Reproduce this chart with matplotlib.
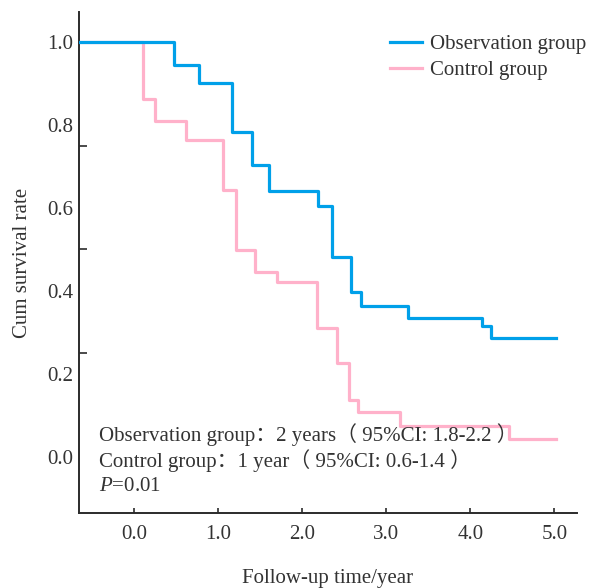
import matplotlib
matplotlib.use("Agg")
import matplotlib.pyplot as plt
import numpy as np

plt.rcParams['font.family'] = ['Liberation Serif', 'Noto Sans CJK SC']
plt.rcParams['mathtext.fontset'] = 'custom'
plt.rcParams['mathtext.rm'] = 'Liberation Serif'
plt.rcParams['mathtext.it'] = 'Liberation Serif:italic'

# Kaplan-Meier step data (time in years, cum survival)
obs_times = [-0.65, 0.48, 0.77, 1.17, 1.40, 1.60, 2.19, 2.35, 2.58, 2.70, 3.26, 4.14, 4.25, 5.02]
obs_surv = [1.0, 0.943, 0.900, 0.783, 0.702, 0.641, 0.605, 0.482, 0.396, 0.363, 0.335, 0.315, 0.287, 0.287]

ctrl_times = [-0.65, 0.11, 0.25, 0.62, 1.06, 1.21, 1.44, 1.70, 2.18, 2.41, 2.56, 2.66, 3.16, 4.46, 5.02]
ctrl_surv = [1.0, 0.863, 0.810, 0.764, 0.643, 0.498, 0.444, 0.421, 0.310, 0.225, 0.137, 0.107, 0.074, 0.042, 0.042]

x_ticks = [0, 1, 2, 3, 4, 5]
y_labels = [0.0, 0.2, 0.4, 0.6, 0.8, 1.0]
y_marks = [0.0, 0.25, 0.5, 0.75, 1.0]

notes = ["Observation group：2 years（ 95%CI: 1.8-2.2 ）",
         "Control group：1 year（ 95%CI: 0.6-1.4 ）",
         "$P$=0.01"]

blue = '#00a0e9'
pink = '#ffb1ca'
axis_col = '#2b2b2b'
fs = 15

fig = plt.figure(figsize=(5.92, 5.88), dpi=100)
ax = fig.add_axes([0.1334, 0.1276, 0.8413, 0.852])

ax.step(obs_times, obs_surv, where='post', color=blue, lw=2.3, label='Observation group', zorder=3)
ax.step(ctrl_times, ctrl_surv, where='post', color=pink, lw=2.3, label='Control group', zorder=2)

ax.set_xlim(-0.655, 5.27)
ax.set_ylim(-0.136, 1.072)

for s in ['top', 'right']:
    ax.spines[s].set_visible(False)
for s in ['left', 'bottom']:
    ax.spines[s].set_linewidth(1.4)
    ax.spines[s].set_color(axis_col)

ax.set_xticks(x_ticks)
ax.set_xticklabels(['%.1f' % v for v in x_ticks], fontsize=fs, color='#333333')
ax.tick_params(axis='x', direction='in', length=3.5, width=1.2, color=axis_col, pad=9)

# labels every 0.2, tick marks every 0.25 (as in the source figure)
ax.set_yticks(y_labels)
ax.set_yticklabels(['%.1f' % v for v in y_labels], fontsize=fs, color='#333333')
ax.tick_params(axis='y', which='major', length=0, pad=4)
ax.set_yticks(y_marks, minor=True)
ax.tick_params(axis='y', which='minor', direction='in', length=5.5, width=1.2, color=axis_col)

ax.set_xlabel('Follow-up time/year', fontsize=fs, color='#333333', labelpad=18)
ax.set_ylabel('Cum survival rate', fontsize=fs, color='#333333', labelpad=11)

leg = ax.legend(loc='upper left', bbox_to_anchor=(0.624, 0.955), frameon=False,
                fontsize=fs, handlelength=1.55, handletextpad=0.4,
                borderaxespad=0, borderpad=0, labelspacing=0.32)
for t in leg.get_texts():
    t.set_color('#333333')

note_y = [0.052, -0.010, -0.072]
for txt, yy in zip(notes, note_y):
    ax.text(-0.42, yy, txt, fontsize=fs, color='#333333', va='center', ha='left')

fig.savefig('out.png', dpi=100)
